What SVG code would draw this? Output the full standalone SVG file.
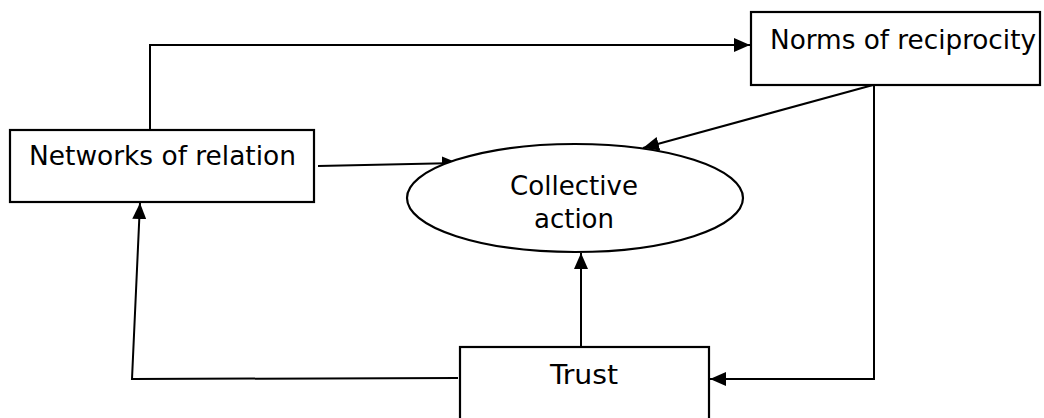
<svg xmlns="http://www.w3.org/2000/svg" width="1044" height="418" viewBox="0 0 1044 418">
<style>
.box{fill:#fff;stroke:#000;stroke-width:2.2}
.lbl{font-family:"DejaVu Sans Condensed","DejaVu Sans","Liberation Sans",sans-serif;font-size:27px;fill:#000}
.con{fill:none;stroke:#000;stroke-width:2}
</style>
<defs>
<marker id="ah" viewBox="0 0 16 14" refX="16" refY="7" markerWidth="16" markerHeight="14" markerUnits="userSpaceOnUse" orient="auto">
<path d="M0,0 L16,7 L0,14 Z" fill="#000"/>
</marker>
</defs>
<rect width="1044" height="418" fill="#fff"/>
<g id="connectors">
<polyline class="con" points="150,130 150,45 750,45" marker-end="url(#ah)"/>
<line class="con" x1="318" y1="166" x2="458" y2="163" marker-end="url(#ah)"/>
<line class="con" x1="873" y1="85" x2="643" y2="148" marker-end="url(#ah)"/>
<polyline class="con" points="874,85 874,379 710,379" marker-end="url(#ah)"/>
<line class="con" x1="581" y1="348" x2="581" y2="253" marker-end="url(#ah)"/>
<polyline class="con" points="458,378 132,379 140,203" marker-end="url(#ah)"/>
</g>
<g id="norms">
<rect class="box" x="751" y="12" width="289" height="73"/>
<text class="lbl" x="770" y="49" textLength="266" lengthAdjust="spacingAndGlyphs">Norms of reciprocity</text>
</g>
<g id="networks">
<rect class="box" x="10" y="130" width="304" height="72"/>
<text class="lbl" x="29" y="165" textLength="267" lengthAdjust="spacingAndGlyphs">Networks of relation</text>
</g>
<g id="collective">
<ellipse class="box" cx="575" cy="198" rx="168" ry="54"/>
<text class="lbl" x="510" y="195" textLength="128" lengthAdjust="spacingAndGlyphs">Collective</text>
<text class="lbl" x="534" y="228" textLength="80" lengthAdjust="spacingAndGlyphs">action</text>
</g>
<g id="trust">
<rect class="box" x="460" y="347" width="249" height="80"/>
<text class="lbl" x="550" y="384" textLength="68" lengthAdjust="spacingAndGlyphs">Trust</text>
</g>
</svg>
